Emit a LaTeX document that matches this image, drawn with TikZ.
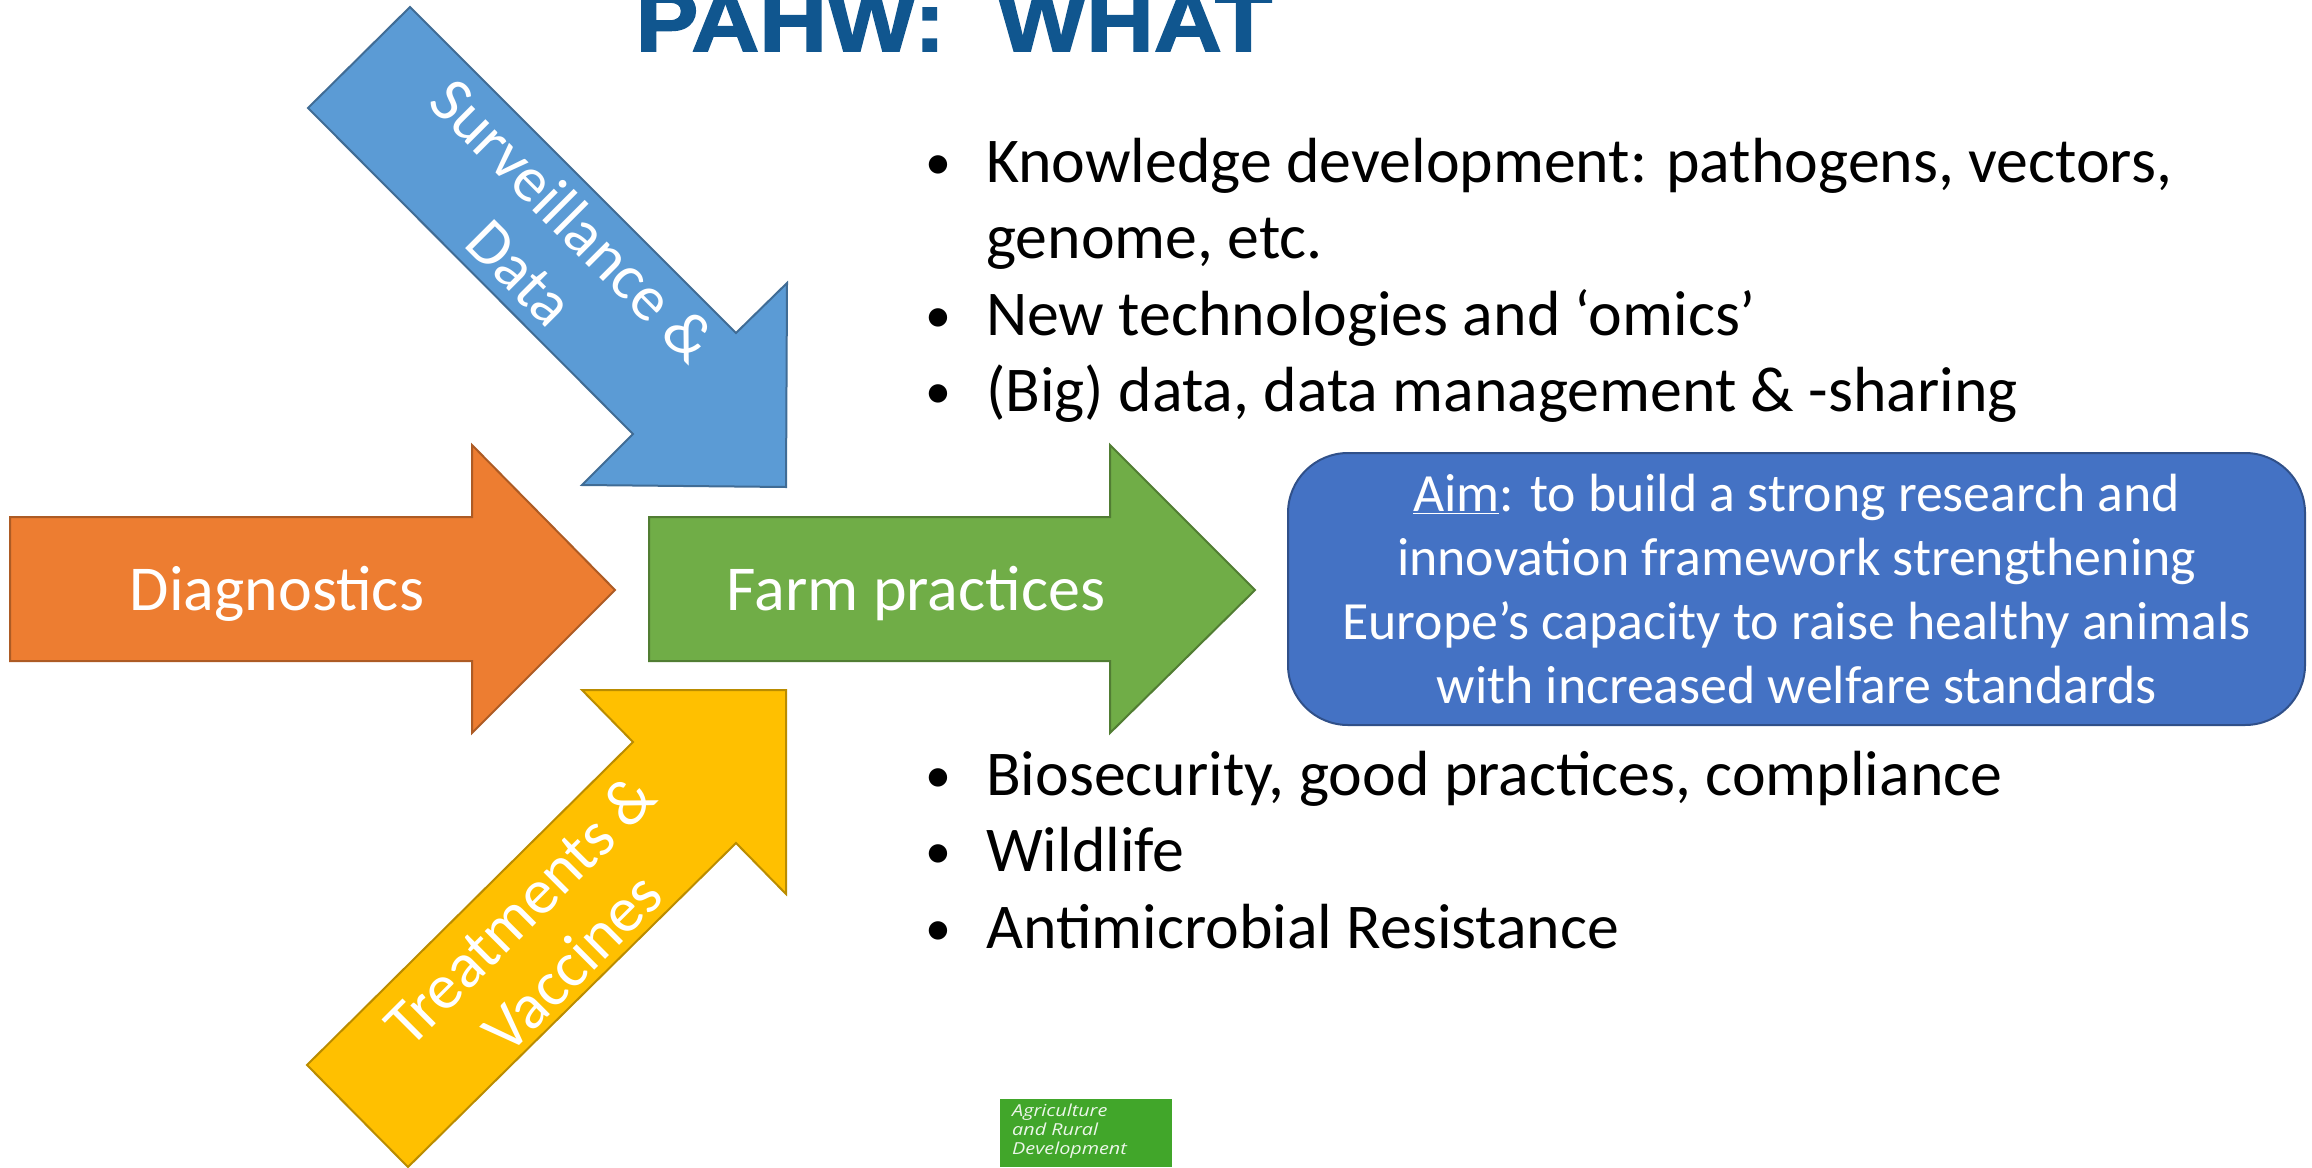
\documentclass[tikz,border=0pt]{standalone}
\usepackage{fontspec}
\setmainfont{Carlito}
\newfontfamily\titlefont[FakeStretch=1.105,FakeBold=2]{Liberation Sans}
\newfontfamily\logofont[FakeStretch=1.2]{Open Sans}
\usepackage{tikz}
\definecolor{titleblue}{HTML}{10568F}
\definecolor{survblue}{HTML}{5B9BD5}
\definecolor{diagorange}{HTML}{ED7D31}
\definecolor{farmgreen}{HTML}{70AD47}
\definecolor{treatyellow}{HTML}{FFC000}
\definecolor{aimblue}{HTML}{4472C4}
\definecolor{logogreen}{HTML}{41A62A}
\tikzset{
	arrowlabel/.style={text=white, font=\fontsize{64}{74}\selectfont, align=center},
	item/.style={anchor=base west, inner sep=0pt, font=\fontsize{63.8}{76}\selectfont}
}
\newcommand{\itm}[1]{\llap{\raisebox{3pt}{\fontsize{52}{52}\selectfont\textbullet}\hspace{35pt}}#1}

\begin{document}
\begin{tikzpicture}[x=1pt,y=-1pt]
	  \useasboundingbox (0,0) rectangle (2312,1167);

	  % Title
	  \node [anchor=base, inner sep=0pt, text=titleblue, font=\titlefont\bfseries\fontsize{85}{85}\selectfont] (title) at (954,51) {PAHW:\ \ WHAT};

	  % Big arrows
	  \draw [line width=2pt, fill=survblue, draw=survblue!70!black] (410,7) -- (308,108) -- (633,434) -- (582,485) -- (786,487) -- (787,283) -- (736,333) -- cycle;
	  \draw [line width=2pt, fill=diagorange, draw=diagorange!73!black] (10,517) -- (472,517) -- (472,445) -- (615,590) -- (472,733) -- (472,661) -- (10,661) -- cycle;
	  \draw [line width=2pt, fill=farmgreen, draw=farmgreen!72!black] (649,517) -- (1110,517) -- (1110,445) -- (1255,590) -- (1110,733) -- (1110,661) -- (649,661) -- cycle;
	  \draw [line width=2pt, fill=treatyellow, draw=treatyellow!73!black] (786,690) -- (582,690) -- (633,742) -- (307,1065) -- (408,1167) -- (736,843) -- (786,894) -- cycle;

	  % Arrow labels
	  \node [arrowlabel, rotate=-45] (surv) at (547,246) {Surveillance \&\\Data};
	  \node [arrowlabel] (diag) at (277,594) {Diagnostics};
	  \node [arrowlabel] (farm) at (916,594) {Farm practices};
	  \node [arrowlabel, rotate=45] (treat) at (546,936) {Treatments \&\\Vaccines};

	  % Aim box
	  \node [draw=aimblue!70!black, line width=2pt, fill=aimblue, rounded corners=60pt, minimum width=1017pt, minimum height=272pt, inner sep=0pt, text=white, align=center, font=\fontsize{53.8}{63.7}\selectfont] (aim) at (1796.5,589) {\underline{Aim}: to build a strong research and\\innovation framework strengthening\\Europe’s capacity to raise healthy animals\\with increased welfare standards};

	  % Bullet lists
	  \node [item] (knowledge) at (986,182) {\itm{Knowledge development: pathogens, vectors,}};
	  \node [item] (genome) at (986,258) {genome, etc.};
	  \node [item] (omics) at (986,335) {\itm{New technologies and ‘omics’}};
	  \node [item] (bigdata) at (986,411) {\itm{(Big) data, data management \& -sharing}};
	  \node [item] (biosec) at (986,795) {\itm{Biosecurity, good practices, compliance}};
	  \node [item] (wildlife) at (986,871) {\itm{Wildlife}};
	  \node [item] (amr) at (986,948) {\itm{Antimicrobial Resistance}};

	  % Logo
	  \node [anchor=north west, fill=logogreen, minimum width=172pt, minimum height=68pt, inner sep=0pt] (logo) at (1000,1099) {};
	  \node [anchor=north west, inner sep=0pt, text=white!90!logogreen, align=left, font=\logofont\itshape\fontsize{16.5}{19}\selectfont] (logotext) at (1012,1104) {Agriculture\\and Rural\\Development};
	 \end{tikzpicture}
\end{document}
